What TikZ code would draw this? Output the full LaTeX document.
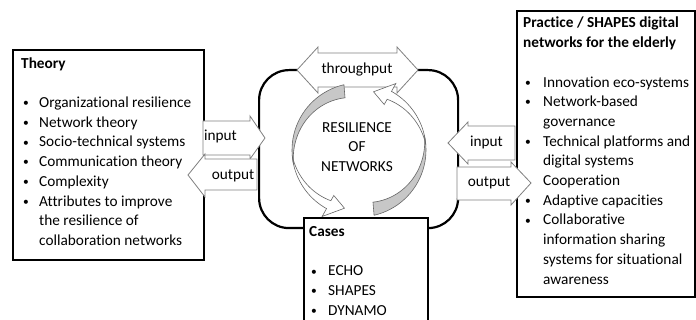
\documentclass[tikz,border=0pt]{standalone}
\usepackage{fontspec}
\setmainfont{Carlito}[Ligatures=NoCommon]
\newcommand\boxfont{\fontsize{15.3}{19.7}\selectfont}
\newcommand\itm[1]{\makebox[#1pt][l]{\hspace{2pt}\raisebox{0.8pt}{\fontsize{11.5}{11.5}\selectfont\textbullet}}}
\tikzset{
  framebox/.style={draw=black,fill=white,line width=2pt,anchor=north west},
  hubbox/.style={draw=black,fill=white,line width=2.2pt,rounded corners=30pt,anchor=north west},
  blockarrow/.style={draw=black!50,fill=white,line width=0.8pt},
  cyclearrow/.style={draw=black!60,fill=white,line width=0.6pt},
  cycleshade/.style={draw=black!60,fill=black!22,line width=0.6pt},
  listtext/.style={inner sep=0pt,anchor=base west,font=\boxfont},
  arrowlabel/.style={inner sep=0pt,anchor=base,font=\boxfont}
}
\begin{document}
\begin{tikzpicture}[x=1pt,y=-1pt]
\useasboundingbox (0,0) rectangle (696,320);
\clip (0,0) rectangle (696,320);
% frames
\node[framebox, minimum width=191pt, minimum height=210pt] (theory) at (12,49) {};
\node[hubbox, minimum width=199pt, minimum height=158pt] (hub) at (258,69) {};
\node[framebox, minimum width=178pt, minimum height=286pt] (practice) at (516,10) {};
% block arrows
\draw[blockarrow] (297,70) -- (318,47) -- (318,53) -- (397,53) -- (397,47) -- (418,70)
  -- (397,93) -- (397,87) -- (318,87) -- (318,93) -- cycle;
\draw[blockarrow] (203,121) -- (250,121) -- (250,116) -- (265,138) -- (250,159) -- (250,155) -- (203,155) -- cycle;
\draw[blockarrow] (257,159) -- (205,159) -- (205,154) -- (188,175) -- (205,197) -- (205,190) -- (257,190) -- cycle;
\draw[blockarrow] (515,126) -- (468,126) -- (468,122) -- (448,143) -- (468,164) -- (468,160) -- (515,160) -- cycle;
\draw[blockarrow] (457,167) -- (511,167) -- (511,162) -- (531,183) -- (511,205) -- (511,200) -- (457,200) -- cycle;
% cycle arrows round the hub
\foreach \rot in {0,180}{
  \begin{scope}[shift={(359,150)}, yscale=-1, rotate=\rot]
    \draw[cyclearrow] plot[domain=185:241, samples=20] (\x:67) -- (241:76) -- (256:60) -- (241:52)
      -- plot[domain=241:185, samples=20] (\x:{67-9*(\x-185)/56}) -- cycle;
    \draw[cycleshade] plot[domain=103:192, samples=25] (\x:67)
      -- plot[domain=192:105, samples=25] (\x:{67-13*(192-\x)/87}) -- cycle;
  \end{scope}
}
\node[framebox, minimum width=124pt, minimum height=120pt] (cases) at (303,217) {};
% texts
\node[listtext] (theorytext) at (21,68.2) {\begin{tabular}[t]{@{}l@{}}
\textbf{Theory}\\
\\
\itm{18}Organizational resilience\\
\itm{18}Network theory\\
\itm{18}Socio-technical systems\\
\itm{18}Communication theory\\
\itm{18}Complexity\\
\itm{18}Attributes to improve\\
\hspace{18pt}the resilience of\\
\hspace{18pt}collaboration networks
\end{tabular}};
\node[listtext] (practicetext) at (523,28) {\begin{tabular}[t]{@{}l@{}}
\textbf{Practice / SHAPES digital}\\
\textbf{networks for the elderly}\\
\\
\itm{20}Innovation eco-systems\\
\itm{20}Network-based\\
\hspace{20pt}governance\\
\itm{20}Technical platforms and\\
\hspace{20pt}digital systems\\
\hspace{20pt}Cooperation\\
\itm{20}Adaptive capacities\\
\itm{20}Collaborative\\
\hspace{20pt}information sharing\\
\hspace{20pt}systems for situational\\
\hspace{20pt}awareness
\end{tabular}};
\node[listtext] (casestext) at (309,236.5) {\begin{tabular}[t]{@{}l@{}}
\textbf{Cases}\\
\\
\itm{19}ECHO\\
\itm{19}SHAPES\\
\itm{19}DYNAMO
\end{tabular}};
\node[font=\boxfont, align=center, inner sep=0pt] (resilience) at (357,146.8) {RESILIENCE\\OF\\NETWORKS};
\node[arrowlabel] (through) at (357,73.5) {throughput};
\node[arrowlabel] (inleft) at (220.5,141) {input};
\node[arrowlabel] (outleft) at (233,179.5) {output};
\node[arrowlabel] (inright) at (486.5,146.5) {input};
\node[arrowlabel] (outright) at (489,186.5) {output};
\end{tikzpicture}
\end{document}
